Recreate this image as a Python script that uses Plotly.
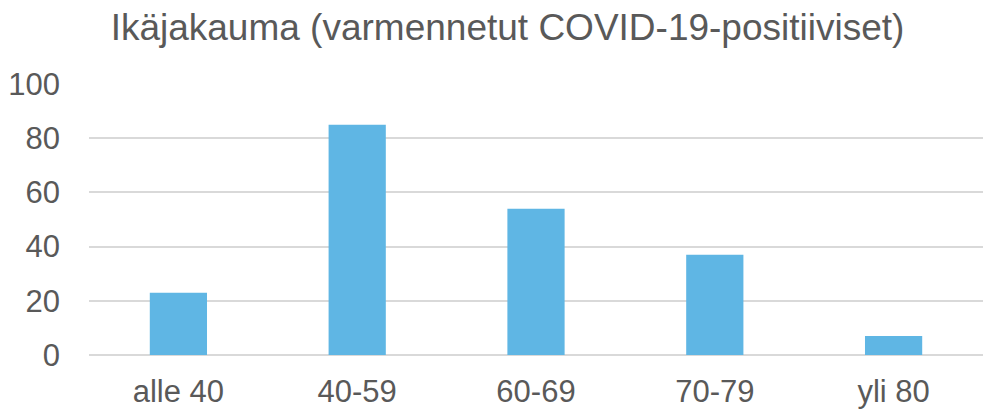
import plotly.graph_objects as go

categories = ["alle 40", "40-59", "60-69", "70-79", "yli 80"]
values = [23, 85, 54, 37, 7]
y_ticks = [0, 20, 40, 60, 80, 100]
title_text = "Ikäjakauma (varmennetut COVID-19-positiiviset)"

FONT = "Liberation Sans, Arial, sans-serif"
GREY = "#595959"

fig = go.Figure(
    go.Bar(
        x=categories,
        y=values,
        marker=dict(color="#5FB6E4", line=dict(width=0)),
        hoverinfo="x+y",
    )
)

fig.update_layout(
    width=984,
    height=410,
    margin=dict(l=89, r=1, t=84, b=55, autoexpand=False),
    paper_bgcolor="white",
    plot_bgcolor="white",
    bargap=0.68,
    showlegend=False,
    title=dict(
        text=title_text,
        x=507.5 / 984,
        xref="container",
        xanchor="center",
        y=1 - 27 / 410,
        yref="container",
        yanchor="middle",
        font=dict(family=FONT, size=37, color=GREY),
    ),
)

fig.update_xaxes(
    automargin=False,
    showline=False,
    showgrid=False,
    ticks="",
    tickfont=dict(family=FONT, size=31, color=GREY),
    ticklabelstandoff=15,
)

fig.update_yaxes(
    automargin=False,
    range=[0, 100],
    tickvals=y_ticks,
    showline=False,
    showgrid=True,
    gridcolor="#D9D9D9",
    gridwidth=1.5,
    zeroline=True,
    zerolinecolor="#D9D9D9",
    zerolinewidth=1.5,
    ticks="",
    tickfont=dict(family=FONT, size=31, color=GREY),
    ticklabelstandoff=28,
)

fig.write_html(
    "out.html",
    config={"displayModeBar": False},
    post_script="document.body.style.margin='0';document.body.style.overflow='hidden';",
)
